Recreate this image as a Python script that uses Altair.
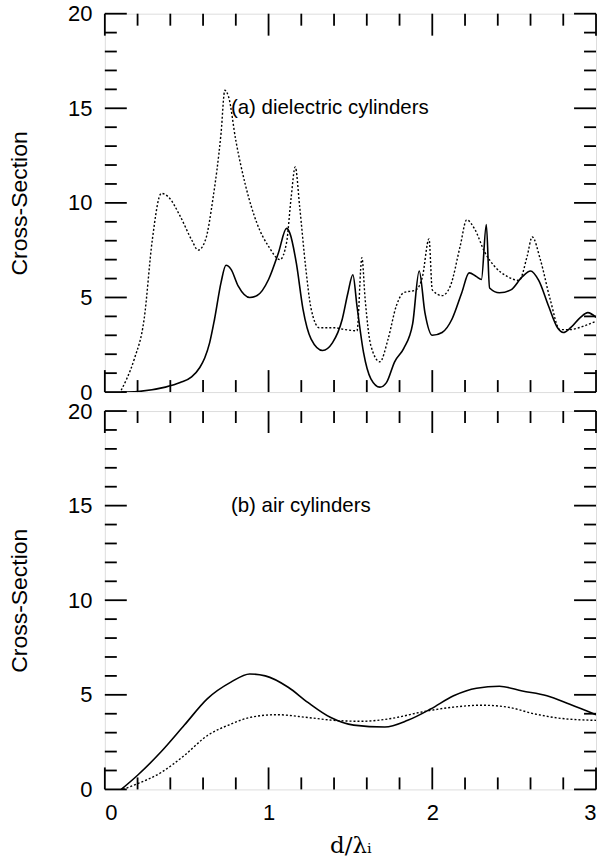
import altair as alt
import pandas as pd

# ---- data ----
# (a) dielectric cylinders
a_solid_x = [0.10, 0.20, 0.37, 0.46, 0.53, 0.58, 0.61, 0.64, 0.67, 0.71, 0.74, 0.77, 0.815, 0.885, 0.93, 1.00, 1.06, 1.11, 1.13, 1.17, 1.21, 1.26, 1.33, 1.39, 1.45, 1.485, 1.515, 1.54, 1.58, 1.625, 1.68, 1.72, 1.77, 1.825, 1.88, 1.92, 1.955, 2.00, 2.06, 2.12, 2.18, 2.225, 2.27, 2.30, 2.33, 2.35, 2.41, 2.48, 2.55, 2.60, 2.65, 2.71, 2.765, 2.80, 2.845, 2.905, 2.95, 3.00]
a_solid_y = [0.0, 0.03, 0.26, 0.5, 0.8, 1.3, 1.8, 2.6, 3.85, 5.8, 6.7, 6.5, 5.6, 5.0, 5.1, 5.95, 7.35, 8.65, 8.4, 6.8, 4.4, 2.8, 2.2, 2.6, 3.85, 5.25, 6.2, 4.55, 2.1, 0.7, 0.26, 0.5, 1.6, 2.3, 3.6, 6.4, 4.2, 3.0, 3.15, 3.85, 5.25, 6.3, 6.1, 5.95, 8.85, 5.5, 5.25, 5.4, 6.1, 6.4, 5.9, 4.55, 3.4, 3.15, 3.4, 3.95, 4.2, 3.95]

a_dot_x = [0.10, 0.134, 0.18, 0.24, 0.29, 0.345, 0.39, 0.46, 0.53, 0.57, 0.615, 0.66, 0.71, 0.733, 0.756, 0.80, 0.86, 0.93, 1.00, 1.07, 1.11, 1.137, 1.163, 1.19, 1.226, 1.26, 1.31, 1.40, 1.47, 1.54, 1.57, 1.59, 1.625, 1.68, 1.73, 1.78, 1.825, 1.90, 1.94, 1.98, 2.00, 2.06, 2.11, 2.17, 2.21, 2.26, 2.32, 2.38, 2.46, 2.53, 2.58, 2.61, 2.66, 2.72, 2.78, 2.835, 2.93, 3.00]
a_dot_y = [0.1, 0.7, 1.75, 3.85, 8.05, 10.5, 10.3, 9.3, 8.05, 7.5, 8.05, 10.2, 13.7, 15.95, 15.6, 13.3, 10.9, 8.9, 7.7, 7.0, 7.9, 10.2, 11.9, 9.8, 6.65, 4.4, 3.4, 3.4, 3.3, 3.24, 7.1, 4.9, 2.45, 1.6, 2.8, 4.55, 5.25, 5.4, 6.1, 8.1, 5.4, 5.1, 5.6, 7.7, 9.1, 8.6, 7.4, 6.65, 6.1, 5.9, 7.2, 8.2, 7.0, 4.9, 3.3, 3.3, 3.5, 3.75]

# (b) air cylinders
b_solid_x = [0.10, 0.20, 0.345, 0.486, 0.627, 0.77, 0.885, 0.98, 1.12, 1.24, 1.38, 1.52, 1.71, 1.85, 1.99, 2.13, 2.27, 2.41, 2.55, 2.70, 2.84, 3.00]
b_solid_y = [0.0, 0.75, 2.0, 3.4, 4.8, 5.67, 6.1, 6.0, 5.4, 4.6, 3.8, 3.4, 3.3, 3.65, 4.25, 4.95, 5.35, 5.45, 5.2, 4.95, 4.5, 3.95]

b_dot_x = [0.11, 0.20, 0.345, 0.486, 0.627, 0.77, 0.885, 1.05, 1.24, 1.40, 1.57, 1.75, 1.94, 2.13, 2.30, 2.46, 2.62, 2.79, 3.00]
b_dot_y = [0.0, 0.3, 0.9, 1.8, 2.85, 3.45, 3.8, 3.95, 3.8, 3.65, 3.6, 3.75, 4.1, 4.35, 4.45, 4.35, 4.0, 3.75, 3.65]

x_major = [0, 1, 2, 3]
x_minor = [0.2, 0.4, 0.6, 0.8, 1.2, 1.4, 1.6, 1.8, 2.2, 2.4, 2.6, 2.8]
y_major = [0, 5, 10, 15, 20]
y_minor = [1, 2, 3, 4, 6, 7, 8, 9, 11, 12, 13, 14, 16, 17, 18, 19]

y_labels = [0, 5, 10, 15, 20]
x_labels = [0, 1, 2, 3]

W, H = 492, 379
MAJ, MIN = 22, 12
FONT = "Liberation Sans"


def panel(sx, sy, dx, dy, label, bottom):
    xs = alt.Scale(domain=[0, 3], nice=False, zero=False)
    ys = alt.Scale(domain=[0, 20], nice=False)
    if bottom:
        xaxis = alt.Axis(values=x_labels, format="d", ticks=False, domain=False, grid=False,
                         labelFontSize=22, labelFont=FONT, labelPadding=13, labelColor="black",
                         title="d/λᵢ", titleFont="DejaVu Serif", titleFontSize=23,
                         titleFontWeight="normal", titlePadding=11, titleColor="black")
    else:
        xaxis = alt.Axis(labels=False, ticks=False, domain=False, grid=False, title=None)
    yaxis = alt.Axis(values=y_labels, ticks=False, domain=False, grid=False,
                     labelFontSize=22, labelFont=FONT, labelPadding=13, labelColor="black",
                     title="Cross-Section", titleFont=FONT, titleFontSize=23,
                     titleFontWeight="normal", titlePadding=36, titleColor="black")

    df_s = pd.DataFrame({"x": sx, "y": sy})
    df_d = pd.DataFrame({"x": dx, "y": dy})
    solid = alt.Chart(df_s).mark_line(color="black", strokeWidth=1.6, interpolate="monotone", clip=True).encode(
        x=alt.X("x:Q", scale=xs, axis=xaxis), y=alt.Y("y:Q", scale=ys, axis=yaxis))
    dotted = alt.Chart(df_d).mark_line(color="black", strokeWidth=1.4, strokeDash=[2, 2],
                                       interpolate="monotone", clip=True).encode(
        x=alt.X("x:Q", scale=xs), y=alt.Y("y:Q", scale=ys))

    layers = [solid, dotted]
    for vals, ln in ((x_major, MAJ), (x_minor, MIN)):
        d = pd.DataFrame({"t": vals})
        layers.append(alt.Chart(d).mark_rule(color="black", strokeWidth=1.8).encode(
            x=alt.X("t:Q", scale=xs), y=alt.value(H), y2=alt.value(H - ln)))
        layers.append(alt.Chart(d).mark_rule(color="black", strokeWidth=1.8).encode(
            x=alt.X("t:Q", scale=xs), y=alt.value(0), y2=alt.value(ln)))
    for vals, ln in ((y_major, MAJ), (y_minor, MIN)):
        d = pd.DataFrame({"t": vals})
        layers.append(alt.Chart(d).mark_rule(color="black", strokeWidth=1.8).encode(
            y=alt.Y("t:Q", scale=ys), x=alt.value(0), x2=alt.value(ln)))
        layers.append(alt.Chart(d).mark_rule(color="black", strokeWidth=1.8).encode(
            y=alt.Y("t:Q", scale=ys), x=alt.value(W), x2=alt.value(W - ln)))

    lab = pd.DataFrame({"x": [0.77], "y": [15.0], "text": [label]})
    layers.append(alt.Chart(lab).mark_text(align="left", baseline="middle", fontSize=20.5,
                                           font=FONT, color="black").encode(
        x=alt.X("x:Q", scale=xs), y=alt.Y("y:Q", scale=ys), text="text:N"))

    return alt.layer(*layers).properties(width=W, height=H)


top = panel(a_solid_x, a_solid_y, a_dot_x, a_dot_y, "(a) dielectric cylinders", False)
bot = panel(b_solid_x, b_solid_y, b_dot_x, b_dot_y, "(b) air cylinders", True)

chart = alt.vconcat(top, bot, spacing=19, bounds="flush").properties(
    padding={"left": 8, "top": 1, "right": 7, "bottom": 5}
).configure_view(stroke="black", strokeWidth=2).configure(background="white")

chart.save("out.html", embed_options={"renderer": "svg", "actions": False})
